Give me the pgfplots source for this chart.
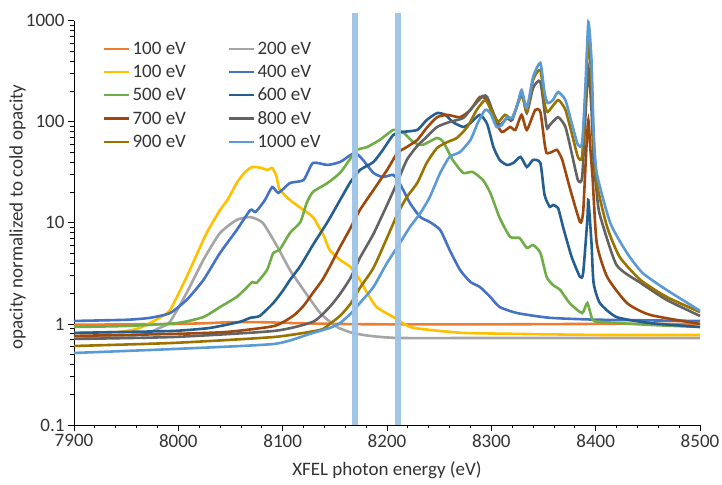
\documentclass[border=0pt]{standalone}
\usepackage{pgfplots}
\pgfplotsset{compat=1.18}
\usepackage{fontspec}
\setmainfont{Carlito}
\definecolor{cOr}{HTML}{ED7D31}
\definecolor{cGy}{HTML}{A5A5A5}
\definecolor{cYe}{HTML}{FFC000}
\definecolor{cBl}{HTML}{4472C4}
\definecolor{cGr}{HTML}{70AD47}
\definecolor{cDb}{HTML}{255E91}
\definecolor{cBr}{HTML}{9E480E}
\definecolor{cDg}{HTML}{636363}
\definecolor{cOl}{HTML}{997300}
\definecolor{cLb}{HTML}{5B9BD5}
\definecolor{band}{HTML}{9DC3E6}
\definecolor{txt}{HTML}{333333}
\newcommand{\cfont}{\fontsize{19bp}{22bp}\selectfont}
\begin{document}
\begin{tikzpicture}
\useasboundingbox (0,0) rectangle (722bp,485bp);
\begin{axis}[
  at={(74bp,60bp)}, anchor=south west,
  scale only axis, width=626bp, height=404.3bp,
  xmin=7900, xmax=8500, ymode=log, ymin=0.1, ymax=1000,
  clip=false,
  axis lines*=left,
  axis line style={black, line width=0.9bp},
  xtick={7900,8000,8100,8200,8300,8400,8500},
  xticklabels={7900,8000,8100,8200,8300,8400,8500},
  minor x tick num=4,
  ytick={0.1,1,10,100,1000},
  yticklabels={0.1,1,10,100,1000},
  tick align=outside,
  major tick length=6bp, minor tick length=3.5bp,
  tick style={black, line width=0.8bp},
  ticklabel style={font=\cfont, text=txt},
  xlabel={XFEL photon energy (eV)},
  ylabel={opacity normalized to cold opacity},
  label style={font=\cfont, text=txt},
  xlabel style={at={(axis description cs:0.5,-0.111)}, anchor=center},
  ylabel style={at={(axis description cs:-0.090,0.515)}, anchor=center},
  legend columns=2,
  legend cell align=left,
  legend image code/.code={\draw[#1, line width=2.6bp] (0bp,0bp) -- (25bp,0bp);},
  legend style={draw=none, fill=none, at={(axis description cs:0.046,0.953)}, anchor=north west,
    font=\cfont, text=txt, row sep=5.2bp, inner sep=0pt,
    /tikz/every even column/.append style={column sep=40bp}},
  every axis plot/.append style={line width=2.6bp, smooth, tension=0.35},
]
\addplot[cOr] coordinates {(7900,0.98) (7950,0.99) (8000,1.00) (8030,1.02) (8050,1.04) (8080,1.04) (8110,1.02) (8150,1.00) (8200,0.99) (8300,0.99) (8400,1.00) (8500,1.00)};
\addlegendentry{100 eV}
\addplot[cGy] coordinates {(7900,0.726) (7944,0.743) (7968,0.797) (7982,0.912) (7992,1.05) (8008,2.03) (8024,4.30) (8040,7.94) (8056,10.7) (8069,11.4) (8081,9.98) (8095,5.78) (8107,3.42) (8120,2.17) (8136,1.28) (8152,0.933) (8167,0.815) (8184,0.761) (8212,0.726) (8308,0.726) (8500,0.726)};
\addlegendentry{200 eV}
\addplot[cYe] coordinates {(7900,0.815) (7944,0.834) (7963,0.912) (7982,1.15) (7992,1.37) (8008,2.92) (8024,6.8) (8030,9.0) (8040,13.4) (8047,16.8) (8056,24.8) (8064,31.9) (8071,35.7) (8080,34.9) (8085,33.3) (8090,34.9) (8094,29.0) (8097,21.5) (8107,16.8) (8120,13.4) (8129,11.4) (8139,7.6) (8145,5.4) (8155,4.3) (8165,3.66) (8174,2.72) (8181,2.03) (8190,1.47) (8206,1.17) (8222,0.933) (8241,0.873) (8273,0.815) (8327,0.797) (8404,0.778) (8500,0.778)};
\addlegendentry{100 eV}
\addplot[cBl] coordinates {(7900,1.07) (7951,1.10) (7973,1.15) (7992,1.28) (8008,1.73) (8024,2.72) (8040,5.04) (8056,8.50) (8069,13.4) (8074,12.8) (8083,16.8) (8090,22.6) (8096,19.8) (8107,24.8) (8120,26.5) (8129,39.1) (8143,37.4) (8155,40.0) (8165,46.9) (8170,49.1) (8177,41.9) (8187,31.2) (8196,28.4) (8206,29.8) (8212,24.8) (8222,15.7) (8232,11.4) (8241,10.2) (8251,8.5) (8260,5.4) (8270,3.42) (8280,2.6) (8289,2.32) (8299,1.85) (8308,1.47) (8325,1.28) (8356,1.15) (8404,1.10) (8500,1.07)};
\addlegendentry{400 eV}
\addplot[cGr] coordinates {(7900,0.933) (7951,0.955) (7999,1.02) (8024,1.17) (8040,1.47) (8056,1.85) (8066,2.32) (8071,2.6) (8075,2.55) (8085,3.42) (8091,5.04) (8097,5.4) (8107,7.94) (8117,10.2) (8123,15.7) (8129,20.2) (8143,24.8) (8155,31.2) (8165,43.4) (8171,52.6) (8181,56.3) (8193,66.1) (8206,83.0) (8215,79.3) (8225,63.1) (8234,59.0) (8248,69.2) (8254,63.1) (8263,41.9) (8273,31.2) (8282,31.9) (8292,26.5) (8299,19.8) (8308,11.2) (8318,7.26) (8327,7.10) (8334,5.65) (8340,6.04) (8347,5.04) (8353,2.92) (8359,2.43) (8366,2.17) (8375,1.61) (8387,1.28) (8392,1.61) (8397,1.10) (8404,1.05) (8452,0.978) (8500,0.933)};
\addlegendentry{500 eV}
\addplot[cDb] coordinates {(7900,0.815) (7951,0.834) (7996,0.853) (8030,0.912) (8059,1.05) (8069,1.15) (8078,1.20) (8091,1.61) (8100,2.12) (8107,2.72) (8117,3.75) (8129,6.04) (8143,10.2) (8155,16.8) (8165,25.4) (8174,33.3) (8187,40.0) (8196,52.6) (8206,74.0) (8215,79.3) (8229,83.0) (8238,104) (8248,122) (8256,117) (8263,99.5) (8273,88.9) (8280,97.3) (8289,117) (8296,95.1) (8302,56.3) (8308,41.9) (8315,37.4) (8321,39.1) (8328,44.9) (8334,35.7) (8340,41.9) (8347,39.1) (8351,18.9) (8356,14.4) (8359,15.0) (8364,14.0) (8369,8.89) (8377,4.60) (8385,2.92) (8388,3.19) (8392,10.7) (8393,16.8) (8396,6.3) (8398,2.55) (8404,1.61) (8420,1.17) (8452,1.02) (8500,0.933)};
\addlegendentry{600 eV}
\addplot[cBr] coordinates {(7900,0.761) (7996,0.797) (8047,0.834) (8092,0.955) (8110,1.20) (8120,1.51) (8129,2.03) (8138,2.72) (8145,3.66) (8155,5.78) (8165,8.89) (8174,13.4) (8187,21.1) (8200,33.3) (8210,49.1) (8219,56.3) (8229,66.1) (8238,86.9) (8248,111) (8258,117) (8270,111) (8280,131) (8289,176) (8296,164) (8302,109) (8310,79.3) (8318,88.9) (8323,83.0) (8329,117) (8334,83.0) (8342,131) (8347,125) (8351,61.7) (8353,49.1) (8358,50.2) (8363,52.6) (8368,41.9) (8375,22.6) (8385,10.2) (8388,12.8) (8391,52.6) (8393,104) (8395,52.6) (8397,28.4) (8401,6.33) (8411,2.92) (8430,1.61) (8452,1.23) (8500,1.00)};
\addlegendentry{700 eV}
\addplot[cDg] coordinates {(7900,0.710) (7996,0.743) (8092,0.853) (8129,1.05) (8145,1.47) (8155,1.98) (8165,2.85) (8174,4.50) (8187,7.76) (8200,15.0) (8210,25.4) (8219,41.9) (8229,57.7) (8238,70.8) (8248,88.9) (8260,99.5) (8273,109) (8282,140) (8292,180) (8296,176) (8302,122) (8308,92.9) (8315,109) (8320,104) (8329,193) (8334,122) (8340,216) (8347,248) (8353,88.9) (8356,92.9) (8364,111) (8371,88.9) (8377,49.1) (8383,26.5) (8387,27.8) (8390,104) (8393,340) (8396,131) (8398,41.9) (8401,20.0) (8404,12.0) (8420,3.83) (8443,2.55) (8468,1.73) (8500,1.20)};
\addlegendentry{800 eV}
\addplot[cOl] coordinates {(7900,0.605) (7996,0.649) (8092,0.743) (8136,0.873) (8145,1.00) (8155,1.20) (8165,1.58) (8174,2.27) (8187,3.58) (8200,7.10) (8210,12.2) (8219,18.0) (8229,24.8) (8238,39.1) (8248,55.1) (8258,63.1) (8267,69.2) (8277,88.9) (8286,131) (8294,164) (8299,137) (8306,99.5) (8313,117) (8320,109) (8329,184) (8334,125) (8340,259) (8347,325) (8351,153) (8354,125) (8364,164) (8371,131) (8377,77.4) (8383,44.9) (8387,44.9) (8390,164) (8393,644) (8396,259) (8398,66.1) (8401,24.8) (8411,9.10) (8423,4.60) (8443,2.72) (8468,1.85) (8500,1.31)};
\addlegendentry{900 eV}
\addplot[cLb] coordinates {(7900,0.516) (7996,0.565) (8092,0.634) (8126,0.797) (8145,0.912) (8155,1.02) (8165,1.26) (8174,1.61) (8187,2.32) (8200,4.01) (8210,5.78) (8222,9.10) (8232,12.5) (8241,18.0) (8251,31.2) (8260,44.9) (8270,50.2) (8280,66.1) (8287,97.3) (8294,131) (8299,122) (8305,88.9) (8310,92.9) (8315,111) (8320,109) (8325,147) (8329,206) (8334,137) (8340,277) (8347,382) (8351,193) (8354,153) (8359,164) (8364,197) (8371,164) (8377,97.3) (8383,59.0) (8387,61.7) (8390,206) (8393,971) (8396,409) (8398,83.0) (8401,31.2) (8414,9.98) (8430,5.04) (8445,3.19) (8468,2.17) (8500,1.35)};
\addlegendentry{1000 eV}
\addplot[draw=none, fill=band, fill opacity=0.95, sharp plot, forget plot] coordinates {(8166.5,0.1) (8172.5,0.1) (8172.5,1190) (8166.5,1190)} -- cycle;
\addplot[draw=none, fill=band, fill opacity=0.95, sharp plot, forget plot] coordinates {(8207.5,0.1) (8213.5,0.1) (8213.5,1200) (8207.5,1200)} -- cycle;
\end{axis}
\end{tikzpicture}
\end{document}
